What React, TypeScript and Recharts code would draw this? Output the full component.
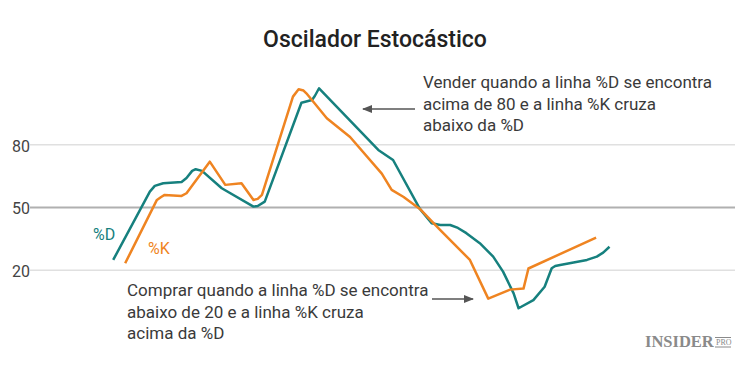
import { LineChart, Line, XAxis, YAxis, ReferenceLine } from "recharts";

// %D (linha lenta) — posição no período x valor do oscilador
const dX = [11.8, 17.0, 17.7, 18.9, 21.5, 22.2, 23.0, 23.5, 24.4, 27.2, 31.7, 32.3, 33.3, 38.5, 40.0, 40.4, 41.0, 49.4, 51.5, 55.3, 57.0, 58.2, 59.6, 60.7, 61.9, 63.8, 65.7, 67.1, 68.6, 69.3, 71.4, 73.0, 74.0, 74.5, 75.2, 79.0, 80.4, 81.3, 82.2];
const dValues = [24.9, 57.6, 60.3, 61.6, 62.2, 64.1, 67.5, 68.3, 67.5, 59.2, 50.4, 50.7, 52.8, 100.1, 101.4, 103.3, 107.0, 77.5, 72.7, 49.3, 42.4, 41.6, 41.6, 40.2, 37.7, 32.9, 26.5, 19.3, 8.9, 1.8, 5.7, 12.1, 20.9, 22.0, 22.5, 24.9, 26.5, 28.4, 31.2];

// %K (linha rápida)
const kX = [13.5, 18.0, 18.6, 19.1, 21.5, 22.2, 25.5, 27.7, 30.0, 31.7, 32.3, 32.9, 37.3, 38.1, 38.8, 39.2, 42.1, 45.4, 49.9, 51.3, 53.0, 55.3, 58.2, 62.4, 65.0, 68.1, 70.0, 70.7, 80.3];
const kValues = [23.3, 53.6, 55.0, 56.0, 55.5, 56.8, 71.9, 60.8, 61.6, 53.6, 54.1, 56.0, 103.0, 106.5, 105.9, 104.6, 92.7, 83.7, 66.2, 58.4, 55.0, 49.3, 39.2, 24.9, 6.4, 10.7, 11.2, 20.8, 35.6];

const yTicks = [20, 50, 80];

const sellNote = ["Vender quando a linha %D se encontra", "acima de 80 e a linha %K cruza", "abaixo da %D"];
const buyNote = ["Comprar quando a linha %D se encontra", "abaixo de 20 e a linha %K cruza", "acima da %D"];

const TEAL = "#16807e";
const ORANGE = "#ef8421";
const FONT = "Roboto, 'Noto Sans', sans-serif";

const dData = dX.map((x, i) => ({ x, v: dValues[i] }));
const kData = kX.map((x, i) => ({ x, v: kValues[i] }));

const YTick = ({ y, payload }: any) => (
  <text x={12} y={y} dy={7} fontSize={16} fill="#444" fontFamily={FONT}>
    {payload.value}
  </text>
);

export default function App() {
  return (
    <div style={{ position: "absolute", top: 0, left: 0, width: 750, height: 365, background: "#fff" }}>
      <LineChart width={750} height={365} margin={{ top: 82, right: 15, bottom: 53, left: 0 }}>
        <XAxis type="number" dataKey="x" domain={[0, 100]} hide allowDuplicatedCategory={false} />
        <YAxis
          type="number"
          domain={[0, 110]}
          ticks={yTicks}
          width={30}
          axisLine={false}
          tickLine={false}
          tick={<YTick />}
        />
        <ReferenceLine y={80} segment={[{ x: 1.4, y: 80 }, { x: 100, y: 80 }]} stroke="#e0e0e0" strokeWidth={1.5} />
        <ReferenceLine y={20} segment={[{ x: 1.4, y: 20 }, { x: 100, y: 20 }]} stroke="#e0e0e0" strokeWidth={1.5} />
        <ReferenceLine y={50} stroke="#b0b0b0" strokeWidth={2} />
        <Line data={dData} dataKey="v" type="linear" stroke={TEAL} strokeWidth={2.5} strokeLinejoin="round" dot={false} isAnimationActive={false} />
        <Line data={kData} dataKey="v" type="linear" stroke={ORANGE} strokeWidth={2.5} strokeLinejoin="round" dot={false} isAnimationActive={false} />
      </LineChart>
      <svg width={750} height={365} style={{ position: "absolute", top: 0, left: 0, pointerEvents: "none" }}>
        <defs>
          <marker id="ah" viewBox="0 0 10 10" refX="9" refY="5" markerWidth="7" markerHeight="7" orient="auto">
            <path d="M0,1 L10,5 L0,9 z" fill="#555" />
          </marker>
        </defs>
        <text x={375} y={47} textAnchor="middle" fontSize={23} fontWeight={500} fill="#222" fontFamily={FONT}>
          Oscilador Estocástico
        </text>
        <text x={93} y={240} fontSize={16} fill={TEAL} fontFamily={FONT}>%D</text>
        <text x={148} y={254} fontSize={16} fill={ORANGE} fontFamily={FONT}>%K</text>
        {sellNote.map((t, i) => (
          <text key={t} x={423} y={88 + i * 21.7} fontSize={17} fill="#3a3a3a" fontFamily={FONT}>{t}</text>
        ))}
        {buyNote.map((t, i) => (
          <text key={t} x={127} y={296 + i * 21.7} fontSize={17} fill="#3a3a3a" fontFamily={FONT}>{t}</text>
        ))}
        <line x1={415} y1={109} x2={363} y2={109} stroke="#555" strokeWidth={1.5} markerEnd="url(#ah)" />
        <line x1={432} y1={299} x2={473} y2={299} stroke="#555" strokeWidth={1.5} markerEnd="url(#ah)" />
        <text x={645} y={347} fontSize={16.5} fontWeight={700} fill="#8a8a8a" fontFamily="'Liberation Serif', 'DejaVu Serif', serif">
          INSIDER
        </text>
        <line x1={715} y1={337.5} x2={731} y2={337.5} stroke="#8a8a8a" strokeWidth={1} />
        <text x={716} y={345} fontSize={8} fill="#8a8a8a" fontFamily="'Liberation Serif', serif">PRO</text>
        <line x1={715} y1={347} x2={731} y2={347} stroke="#8a8a8a" strokeWidth={1} />
      </svg>
    </div>
  );
}
